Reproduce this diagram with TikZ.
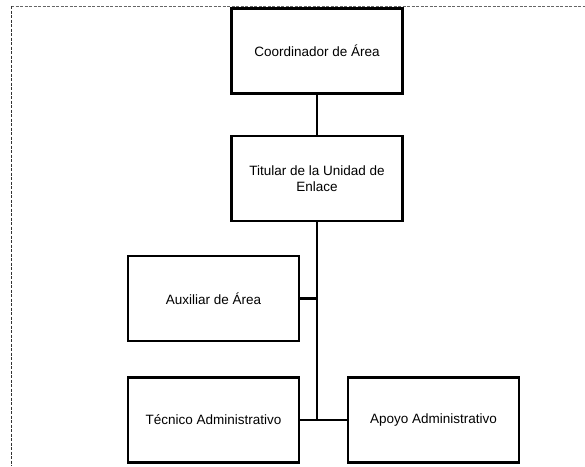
\documentclass[tikz,border=0pt]{standalone}
\usepackage{fontspec}
\setmainfont{Liberation Sans}
\begin{document}
\begin{tikzpicture}[x=1pt,y=-1pt,
  box/.style={draw=black,line width=2.2pt,rectangle,minimum width=171pt,minimum height=85pt,inner sep=0pt,font=\fontsize{13.5}{15.5}\selectfont,align=center},
  conn/.style={draw=black,line width=2.4pt},
  scanline/.style={draw=black!60,line width=0.7pt,dash pattern=on 3pt off 1.5pt}]
\useasboundingbox (0,0) rectangle (585,466);
\fill[white] (0,0) rectangle (585,466);
\draw[scanline] (11,6) -- (585,6);
\draw[scanline,draw=black!80,line width=1pt] (11,6) -- (11,466);
\node[box] (coord) at (317,51) {Coordinador de Área};
\node[box] (tit) at (317,178.5) {Titular de la Unidad de\\Enlace};
\node[box] (aux) at (213.5,298.5) {Auxiliar de Área};
\node[box] (tec) at (213.5,420) {Técnico Administrativo};
\node[box] (apo) at (433.5,420) {Apoyo Administrativo};
\draw[conn] (coord.south) -- (tit.north);
\draw[conn] (tit.south) -- (tit.south |- tec.east);
\draw[conn] (aux.east) -- (aux.east -| tit.south);
\draw[conn] (tec.east) -- (apo.west);
\end{tikzpicture}
\end{document}
